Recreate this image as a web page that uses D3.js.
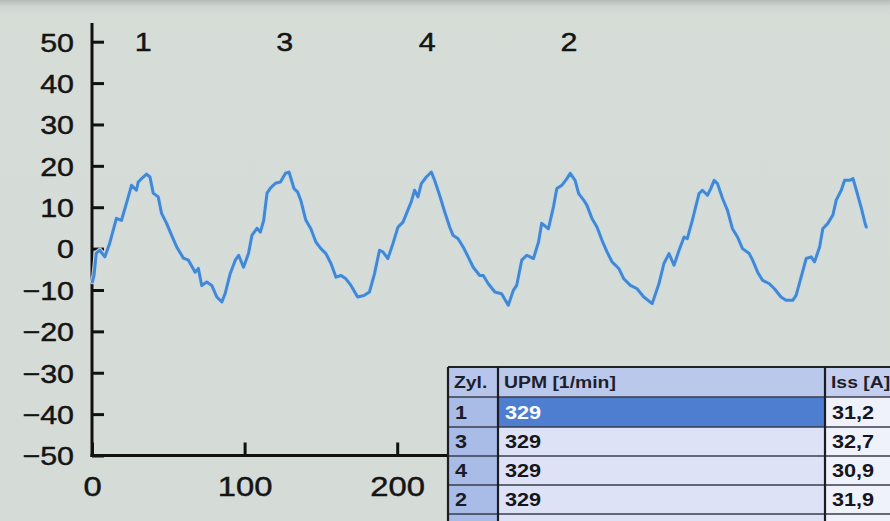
<!DOCTYPE html>
<html>
<head>
<meta charset="utf-8">
<script src="https://cdn.jsdelivr.net/npm/d3@7"></script>
<style>
  html, body { margin: 0; padding: 0; background: #d5dbd5; }
  svg { display: block; }
  text { transform-box: fill-box; }
  .stretch-r { transform-origin: right center; transform: scaleX(1.17); }
  .stretch-c { transform-origin: center center; transform: scaleX(1.17); }
  .stretch-l { transform-origin: left center; transform: scaleX(1.14); }
  .heavy { stroke: #141414; stroke-width: 0.45px; }
</style>
</head>
<body>
<svg id="chart" width="890" height="521"></svg>
<script>
// ---------- DATA ----------
const timeValues = [
  0.3, 1.3, 2.8, 5.1, 8.4, 11.6, 16.0, 19.3, 22.6, 25.9, 29.1, 30.3, 33.6, 35.7, 38.0, 40.1, 43.4, 45.6, 48.9, 52.2, 55.5,
  59.9, 63.2, 67.6, 69.7, 71.9, 75.2, 78.5, 81.8, 85.1, 87.3, 90.6, 93.9, 96.1, 99.3, 102.6, 104.8, 108.1, 110.3, 112.5,
  114.7, 116.9, 120.2, 123.5, 126.8, 129.1,
  132.4, 134.7, 136.8, 140.1, 143.4, 146.7, 150.0, 153.3, 156.6, 159.9, 163.2, 166.4, 169.7, 174.1, 178.5, 181.8, 185.1,
  188.4, 190.6, 193.9, 197.2, 200.5, 203.8, 207.0, 209.2, 211.4, 213.6, 215.8, 219.1, 222.4, 224.5, 227.8, 231.1, 234.4,
  236.6, 239.9, 243.2, 246.5, 249.8, 254.1,
  256.4, 259.7, 264.0, 268.4, 272.8, 276.1, 278.3, 281.6, 284.9, 289.3, 292.6, 294.7, 299.1, 302.4, 304.6, 307.9, 311.2,
  313.4, 316.6, 318.9, 322.2, 324.3, 327.6, 330.9, 334.2, 337.5, 340.8, 345.2, 348.5, 352.8, 357.2, 361.6, 367.1, 371.5,
  374.8, 378.1, 381.4, 384.7, 388.0, 390.1, 393.4, 395.6, 397.8, 400.0, 403.3, 405.5, 407.7, 409.9, 413.2, 416.4, 419.7,
  423.0, 426.3, 430.7, 432.9, 436.2, 439.5, 443.9, 447.2, 451.5, 454.8, 459.2, 461.4, 464.7, 468.0, 471.3, 473.5, 476.8,
  478.9, 482.2, 485.5, 487.7, 491.0, 493.2, 496.5, 498.7, 500.9, 504.2, 506.4, 507.4
];
const currentValues = [
  -8.0, -6.5, -1.1, -0.4, -2.0, 1.3, 7.3, 6.8, 11.0, 15.3, 14.1, 16.1, 17.3, 18.0, 17.3, 13.4, 12.5, 8.5, 6.1, 3.2, 0.4,
  -2.3, -2.8, -5.7, -4.8, -8.9, -8.1, -8.9, -11.7, -12.9, -10.8, -6.0, -2.8, -1.6, -4.5, -1.1, 3.2, 4.9, 4.0, 6.8,
  13.4, 14.6, 15.8, 16.1, 18.2, 18.5,
  14.5, 13.7, 11.7, 6.9, 4.8, 1.6, 0.0, -1.2, -3.6, -6.9, -6.5, -7.3, -8.9, -11.7, -11.3, -10.5, -6.1,
  -0.4, -0.8, -2.4, 1.2, 5.2, 6.4, 9.3, 11.3, 14.1, 12.5, 15.7, 17.3, 18.5, 16.5, 12.9, 8.9, 5.2,
  3.2, 2.4, 0.4, -2.0, -4.5, -6.5,
  -6.5, -8.5, -10.5, -10.9, -13.7, -10.1, -8.9, -2.8, -1.6, -2.4, 1.6, 6.1, 4.8, 10.1, 14.5, 15.3, 16.9,
  18.2, 16.5, 13.3, 11.7, 10.5, 7.3, 5.2, 2.0, -0.8, -3.2, -4.8, -7.3, -8.9, -9.7, -11.7, -13.3, -8.5,
  -3.6, -1.2, -4.0, -0.4, 2.8, 2.4, 6.8, 10.1, 13.3, 14.1, 12.9, 14.5, 16.5, 15.7, 12.1, 9.3, 4.8,
  2.8, 0.0, -1.2, -2.8, -5.7, -7.7, -8.5, -9.7, -11.7, -12.5, -12.5, -11.3, -6.9, -2.4, -2.0, -3.2, 0.4,
  4.8, 6.1, 8.1, 11.7, 14.1, 16.5, 16.5, 16.9, 14.1, 9.7, 6.4, 5.2
];
const yTicks = [-50, -40, -30, -20, -10, 0, 10, 20, 30, 40, 50];
const xTicks = [0, 100, 200];
const cylinderLabels = ["1", "3", "4", "2"];
const cylinderLabelX = [33.5, 126.3, 219.7, 312.5];

const tableHeaders = ["Zyl.", "UPM [1/min]", "Iss [A]"];
const tableZyl = ["1", "3", "4", "2", ""];
const tableUpm = ["329", "329", "329", "329", ""];
const tableIss = ["31,2", "32,7", "30,9", "31,9", ""];

// ---------- LAYOUT ----------
const svg = d3.select("#chart");
const W = 890, H = 521;

const x = d3.scaleLinear().domain([0, 520]).range([92, 92 + 520 * 1.526]);
const y = d3.scaleLinear().domain([-50, 50]).range([455.5, 41.7]);

const defs = svg.append("defs");
const bgGrad = defs.append("linearGradient").attr("id", "bg").attr("x1", 0).attr("x2", 0).attr("y1", 0).attr("y2", 1);
bgGrad.append("stop").attr("offset", "0").attr("stop-color", "#b6bbb7");
bgGrad.append("stop").attr("offset", "0.012").attr("stop-color", "#cfd5d0");
bgGrad.append("stop").attr("offset", "0.03").attr("stop-color", "#d6dcd6");
bgGrad.append("stop").attr("offset", "1").attr("stop-color", "#d5dbd6");
svg.append("rect").attr("width", W).attr("height", H).attr("fill", "url(#bg)");

// ---------- AXES ----------
const font = "'Liberation Sans', Arial, Helvetica, sans-serif";

const yAxis = d3.axisLeft(y).tickValues(yTicks).tickSizeInner(-12).tickSizeOuter(0).tickPadding(18);
const gy = svg.append("g").attr("transform", `translate(${x(0)},0)`).call(yAxis);
gy.select(".domain").remove();
gy.selectAll(".tick line").attr("stroke", "#111").attr("stroke-width", 3);
gy.selectAll(".tick text").attr("font-size", 26).attr("font-family", font)
  .attr("fill", "#141414").attr("dy", "0.36em").attr("class", "stretch-r heavy");

const xAxis = d3.axisBottom(x).tickValues(xTicks).tickSizeInner(-13).tickSizeOuter(0).tickPadding(21);
const gx = svg.append("g").attr("transform", `translate(0,${y(-50)})`).call(xAxis);
gx.select(".domain").remove();
gx.selectAll(".tick line").attr("stroke", "#111").attr("stroke-width", 3);
gx.selectAll(".tick text").attr("font-size", 28).attr("font-family", font)
  .attr("fill", "#141414").attr("class", "stretch-c heavy");

svg.append("line")
  .attr("x1", x(0)).attr("x2", x(0))
  .attr("y1", y(54.5)).attr("y2", y(-50) + 1.5)
  .attr("stroke", "#111").attr("stroke-width", 3);
svg.append("line")
  .attr("x1", x(0) - 1.5).attr("x2", x(520))
  .attr("y1", y(-50)).attr("y2", y(-50))
  .attr("stroke", "#111").attr("stroke-width", 3);

svg.append("g").selectAll("text")
  .data(cylinderLabels)
  .join("text")
  .attr("class", "stretch-c heavy")
  .attr("x", (d, i) => x(cylinderLabelX[i]))
  .attr("y", y(50))
  .attr("dy", "0.36em")
  .attr("text-anchor", "middle")
  .attr("font-family", font)
  .attr("font-size", 26)
  .attr("fill", "#141414")
  .text(d => d);

// ---------- CURVE ----------
const pts = timeValues.map((t, i) => [t, currentValues[i]]);
const line = d3.line().x(d => x(d[0])).y(d => y(d[1]));
svg.append("path").datum(pts)
  .attr("d", line).attr("fill", "none")
  .attr("stroke", "#c4dcf0").attr("stroke-width", 5.2)
  .attr("stroke-linejoin", "round").attr("stroke-linecap", "round").attr("opacity", 0.9);
svg.append("path").datum(pts)
  .attr("d", line).attr("fill", "none")
  .attr("stroke", "#4588d2").attr("stroke-width", 3)
  .attr("stroke-linejoin", "round").attr("stroke-linecap", "round");

// ---------- TABLE ----------
const colX = [448, 498, 825, 892];
const rowY = [367, 397, 427, 456, 485, 514, 544];
const tbl = svg.append("g");
const headerFill = ["#b7c5ea", "#bac8ec", "#c4cff0"];
tableHeaders.forEach((h, c) => {
  tbl.append("rect").attr("x", colX[c]).attr("y", rowY[0])
    .attr("width", colX[c + 1] - colX[c]).attr("height", rowY[1] - rowY[0]).attr("fill", headerFill[c]);
  tbl.append("text").attr("class", "stretch-l")
    .attr("x", colX[c] + 6).attr("y", (rowY[0] + rowY[1]) / 2)
    .attr("dy", "0.36em").attr("font-family", font).attr("font-weight", "bold")
    .attr("font-size", 17).attr("fill", "#1f1f2a").text(h);
});
tableZyl.forEach((z, r) => {
  const y0 = rowY[r + 1], y1 = rowY[r + 2];
  const sel = r === 0;
  const cells = [
    { text: z, fill: "#a8bce7", color: "#1b1b24" },
    { text: tableUpm[r], fill: sel ? "#4e7ecf" : "#dee2f6", color: sel ? "#ffffff" : "#15151c" },
    { text: tableIss[r], fill: "#eff1fb", color: "#15151c" }
  ];
  cells.forEach((cell, c) => {
    tbl.append("rect").attr("x", colX[c]).attr("y", y0)
      .attr("width", colX[c + 1] - colX[c]).attr("height", y1 - y0).attr("fill", cell.fill);
    if (cell.text) {
      tbl.append("text").attr("class", "stretch-l")
        .attr("x", colX[c] + 7).attr("y", (y0 + y1) / 2)
        .attr("dy", "0.36em").attr("font-family", font).attr("font-weight", "bold")
        .attr("font-size", 19).attr("fill", cell.color).text(cell.text);
    }
  });
});
rowY.slice(0, 6).forEach((ry, i) => {
  tbl.append("line").attr("x1", colX[0]).attr("x2", W).attr("y1", ry).attr("y2", ry)
    .attr("stroke", i === 0 ? "#222" : "#3a3d4a").attr("stroke-width", i === 0 ? 2 : 1.6);
});
colX.slice(0, 3).forEach(cx => {
  tbl.append("line").attr("x1", cx).attr("x2", cx).attr("y1", rowY[0]).attr("y2", H)
    .attr("stroke", "#1c1c22").attr("stroke-width", 2.2);
});
</script>
</body>
</html>
